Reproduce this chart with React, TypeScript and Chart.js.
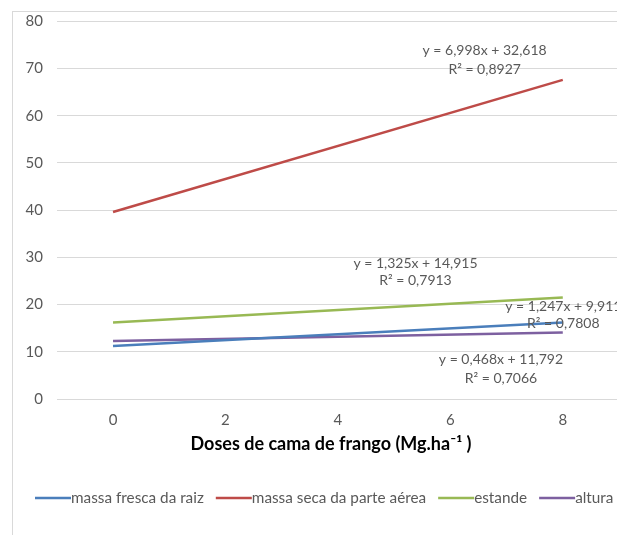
import React, { useEffect, useRef } from "react";
import { Chart, registerables } from "chart.js";

Chart.register(...registerables);

// ---- data ----
const doseRange = [0, 8]; // Mg.ha-1, extent of the trendlines
const xTickValues = [0, 2, 4, 6, 8];
const seriesNames = ["massa fresca da raiz", "massa seca da parte aérea", "estande", "altura"];
const massaFrescaRaiz = [11.2, 16.2];
const massaSecaParteAerea = [39.6, 67.6];
const estande = [16.2, 21.5];
const altura = [12.3, 14.1];
const equations = ["y = 1,247x + 9,911", "y = 6,998x + 32,618", "y = 1,325x + 14,915", "y = 0,468x + 11,792"];
const rSquared = ["R² = 0,7808", "R² = 0,8927", "R² = 0,7913", "R² = 0,7066"];
const xTitle = "Doses de cama de frango (Mg.ha⁻¹ )";

// ---- styling / layout ----
const colors = ["#4A7EBB", "#BE4B48", "#98B954", "#7D60A0"];
const FONT = "Lato, 'Open Sans', sans-serif";
const TEXT_GREY = "#595959";
// label anchors in data units: [x, yEquation, yR2]
const labelAnchors = [
  [8.01, 19.7, 15.9],
  [6.61, 73.9, 69.9],
  [5.38, 28.7, 25.0],
  [6.9, 8.47, 4.45],
];

const seriesValues = [massaFrescaRaiz, massaSecaParteAerea, estande, altura];

const overlayPlugin = {
  id: "overlay",
  afterDraw(chart: any) {
    const { ctx } = chart;
    const xs = chart.scales.x;
    const ys = chart.scales.y;
    ctx.save();
    // trendline labels
    ctx.font = `14px ${FONT}`;
    ctx.fillStyle = TEXT_GREY;
    ctx.textAlign = "center";
    ctx.textBaseline = "middle";
    labelAnchors.forEach((a, i) => {
      const px = xs.getPixelForValue(a[0]);
      ctx.fillText(equations[i], px, ys.getPixelForValue(a[1]));
      ctx.fillText(rSquared[i], px, ys.getPixelForValue(a[2]));
    });
    // axis title
    ctx.font = `bold 18px ${FONT}`;
    ctx.fillStyle = "#000000";
    ctx.fillText(xTitle, 318, 432);
    // legend
    ctx.font = `15.3px ${FONT}`;
    ctx.textAlign = "left";
    let x = 22;
    const y = 486;
    chart.data.datasets.forEach((ds: any) => {
      ctx.strokeStyle = ds.borderColor;
      ctx.lineWidth = 2.5;
      ctx.beginPath();
      ctx.moveTo(x, y);
      ctx.lineTo(x + 36, y);
      ctx.stroke();
      x += 36;
      ctx.fillStyle = TEXT_GREY;
      ctx.fillText(ds.label, x, y);
      x += ctx.measureText(ds.label).width + 12;
    });
    ctx.restore();
  },
};

export default function App() {
  const ref = useRef<HTMLCanvasElement | null>(null);
  useEffect(() => {
    if (!ref.current) return;
    const chart = new Chart(ref.current, {
      type: "line",
      data: {
        datasets: seriesNames.map((name, i) => ({
          label: name,
          data: doseRange.map((d, j) => ({ x: d, y: seriesValues[i][j] })),
          borderColor: colors[i],
          backgroundColor: colors[i],
          borderWidth: 2.5,
          pointRadius: 0,
          fill: false,
          tension: 0,
        })),
      },
      options: {
        animation: false,
        responsive: false,
        maintainAspectRatio: false,
        layout: { padding: { left: 0, right: 34, top: 9.3, bottom: 0 } },
        plugins: { legend: { display: false }, tooltip: { enabled: false } },
        scales: {
          x: {
            type: "linear",
            min: -1,
            max: 9,
            afterBuildTicks: (s: any) => {
              s.ticks = xTickValues.map((v) => ({ value: v }));
            },
            afterFit: (s: any) => {
              s.height = 173;
              s.paddingLeft = 0;
              s.paddingRight = 0;
            },
            grid: { display: false, drawTicks: false, tickLength: 0 },
            border: { display: false },
            ticks: {
              padding: 12,
              color: TEXT_GREY,
              font: { family: FONT, size: 15 },
            },
          },
          y: {
            min: 0,
            max: 80,
            afterFit: (s: any) => {
              s.width = 43.8;
              s.paddingTop = 0;
              s.paddingBottom = 0;
            },
            grid: { color: "#D9D9D9", drawTicks: false, tickLength: 0, lineWidth: 1 },
            border: { display: false },
            ticks: {
              stepSize: 10,
              padding: 13.8,
              color: TEXT_GREY,
              font: { family: FONT, size: 15 },
            },
          },
        },
      },
      plugins: [overlayPlugin],
    });
    return () => chart.destroy();
  }, []);

  return (
    <div style={{ position: "fixed", left: 0, top: 0, width: 617, height: 535, overflow: "hidden", background: "#fff" }}>
      <div
        style={{
          position: "absolute",
          left: 12,
          top: 11,
          width: 640,
          height: 560,
          border: "1px solid #D9D9D9",
          background: "#fff",
        }}
      >
        <canvas ref={ref} width={640} height={560} style={{ display: "block", width: 640, height: 560 }} />
      </div>
    </div>
  );
}
